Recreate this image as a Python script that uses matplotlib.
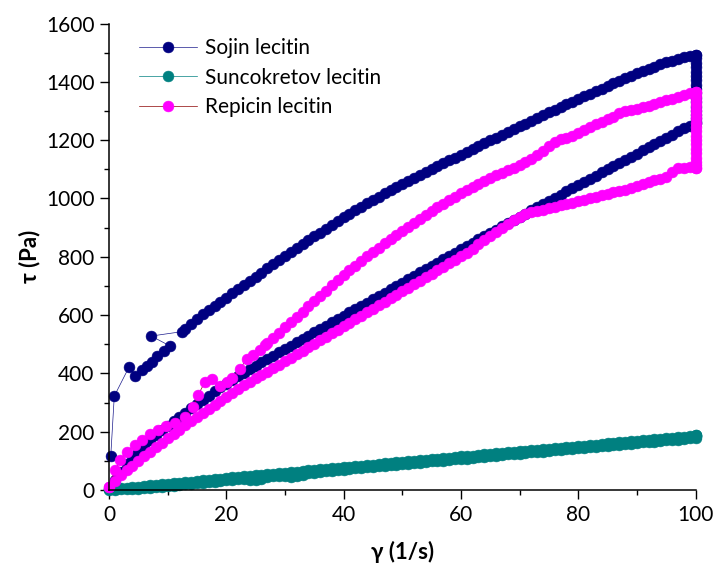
import matplotlib
matplotlib.use("Agg")
import matplotlib.pyplot as plt
from matplotlib.ticker import MultipleLocator

plt.rcParams['font.family'] = ['Lato', 'DejaVu Sans']

# ---------------- data: shear stress tau (Pa) vs shear rate gamma (1/s) ----------------
# Sojin lecitin: ramp up, hold at 100 1/s, ramp down
sojin_up_x = [0.3, 0.9, 3.4, 4.5, 5.6, 6.4, 7.3, 8.2, 9.3, 10.4, 7.2, 12.4] + list(range(13, 101))
sojin_up_tau = [117, 322, 421, 392, 412, 425, 440, 460, 477, 494, 528, 543,
                553, 570, 587, 603, 618, 632, 646, 660, 674, 688, 702, 716, 730, 745, 760, 774,
                789, 803, 817, 830, 844, 857, 870, 883, 896, 909, 922, 935, 947, 959, 971, 983,
                995, 1006, 1017, 1028, 1039, 1050, 1060, 1070, 1081, 1091, 1101, 1111, 1121, 1131,
                1140, 1150, 1160, 1170, 1180, 1189, 1199, 1209, 1219, 1229, 1238, 1248, 1257, 1267,
                1276, 1286, 1295, 1304, 1314, 1323, 1332, 1341, 1350, 1359, 1368, 1377, 1386, 1395,
                1403, 1412, 1420, 1429, 1437, 1445, 1452, 1460, 1467, 1473, 1479, 1484, 1489, 1493]
sojin_hold_tau = [1493, 1480, 1465, 1450, 1435, 1420, 1405, 1390, 1375, 1360, 1345, 1330,
                  1315, 1300, 1287, 1275, 1265, 1258]
sojin_down_x = list(range(0, 101))
sojin_down_tau = [3, 35, 62, 88, 112, 135, 155, 173, 190, 206, 221, 236, 250, 265, 280, 295,
                  310, 324, 338, 352, 365, 378, 390, 402, 414, 426, 438, 450, 461, 472, 484,
                  495, 507, 518, 529, 541, 552, 564, 575, 586, 598, 609, 620, 632, 643, 655,
                  666, 677, 689, 700, 711, 723, 734, 746, 757, 768, 780, 791, 802, 814, 825,
                  837, 848, 860, 871, 882, 893, 904, 915, 926, 937, 948, 959, 970, 981, 991,
                  1002, 1013, 1024, 1035, 1046, 1057, 1068, 1078, 1089, 1100, 1111, 1122, 1133,
                  1143, 1154, 1165, 1176, 1187, 1197, 1208, 1219, 1230, 1240, 1250, 1258]

# Suncokretov lecitin
sunc_x = list(range(0, 101))
sunc_up_tau = [2, 4, 6, 8, 10, 12, 14, 16, 18, 20, 21, 23, 25, 27, 29, 31, 33, 35, 37, 39, 41,
               43, 45, 47, 48, 50, 52, 54, 56, 58, 60, 62, 63, 65, 67, 69, 71, 73, 75, 76, 78,
               80, 82, 84, 86, 87, 89, 91, 93, 95, 97, 98, 100, 102, 104, 106, 107, 109, 111,
               113, 115, 116, 118, 120, 122, 124, 126, 128, 130, 131, 133, 135, 137, 138, 140,
               142, 144, 145, 147, 149, 151, 152, 154, 156, 158, 160, 162, 164, 165, 167, 169,
               171, 172, 174, 176, 178, 180, 181, 183, 185, 187]
sunc_hold_tau = [187, 186, 185, 184]
sunc_down_tau = [0, 1, 2, 3, 4, 5, 7, 8, 10, 12, 13, 15, 17, 19, 21, 23, 25, 27, 29, 31, 33,
                 35, 37, 38, 34, 33, 38, 45, 47, 49, 48, 46, 48, 52, 58, 60, 62, 64, 66, 68,
                 70, 72, 74, 76, 78, 79, 81, 83, 85, 87, 89, 90, 92, 94, 96, 98, 99, 101, 103,
                 105, 107, 108, 110, 112, 114, 116, 118, 120, 122, 123, 125, 127, 129, 130, 132,
                 134, 136, 137, 139, 141, 143, 144, 146, 148, 150, 152, 154, 156, 157, 159, 161,
                 163, 164, 166, 168, 170, 172, 173, 175, 177, 179]

# Repicin lecitin
rep_up_x = [0.0, 1.0, 1.9, 3.0, 4.4, 5.6, 7.0, 8.4, 9.8, 11.3, 13.0, 14.4, 15.2, 16.4, 17.5,
            18.9, 20.1, 20.9, 22.3, 23.5, 24.6, 25.7, 26.6] + list(range(27, 101))
rep_up_tau = [12, 67, 103, 132, 155, 172, 192, 206, 218, 229, 252, 286, 326, 372, 380,
              357, 372, 383, 414, 451, 463, 480, 497,
              505, 522, 540, 558, 576, 594, 612, 630, 648, 666, 684, 702, 719, 736, 753, 769,
              785, 801, 816, 831, 846, 861, 875, 889, 903, 917, 930, 943, 956, 969, 981, 993,
              1005, 1017, 1028, 1039, 1050, 1060, 1070, 1079, 1088, 1097, 1106, 1115, 1124,
              1135, 1148, 1164, 1180, 1195, 1203, 1208, 1213, 1223, 1234, 1246, 1254, 1262,
              1271, 1281, 1292, 1300, 1304, 1307, 1312, 1318, 1324, 1330, 1336, 1342, 1349,
              1356, 1361, 1366]
rep_hold_tau = [1366, 1350, 1335, 1320, 1305, 1290, 1275, 1260, 1245, 1230, 1215, 1200, 1185,
                1170, 1155, 1140, 1126, 1114, 1106]
rep_down_x = list(range(0, 101))
rep_down_tau = [10, 30, 50, 68, 84, 99, 115, 130, 146, 162, 178, 193, 207, 222, 236, 250, 264,
                278, 292, 306, 320, 334, 348, 360, 372, 384, 395, 406, 418, 430, 442, 454,
                466, 478, 490, 502, 514, 526, 538, 550, 562, 574, 586, 598, 610, 622, 634,
                646, 658, 670, 682, 694, 706, 718, 730, 742, 754, 766, 778, 790, 802, 814,
                828, 843, 858, 872, 886, 900, 913, 926, 936, 945, 952, 957, 962, 966, 971,
                976, 981, 986, 991, 996, 1000, 1005, 1011, 1016, 1021, 1025, 1029, 1035, 1042,
                1049, 1056, 1062, 1066, 1075, 1092, 1104, 1106, 1107, 1106]

HOLD_RATE = 100


def loop(up_x, up_tau, hold_tau, down_x, down_tau):
    """Join ramp-up, hold and ramp-down into one measurement sequence."""
    xs = list(up_x) + [HOLD_RATE] * len(hold_tau) + list(down_x)[::-1]
    ys = list(up_tau) + list(hold_tau) + list(down_tau)[::-1]
    return xs, ys


series = [
    ("Sojin lecitin", loop(sojin_up_x, sojin_up_tau, sojin_hold_tau, sojin_down_x, sojin_down_tau),
     "#000080", "#1a1a8c"),
    ("Suncokretov lecitin", loop(sunc_x, sunc_up_tau, sunc_hold_tau, sunc_x, sunc_down_tau),
     "#008080", "#008080"),
    ("Repicin lecitin", loop(rep_up_x, rep_up_tau, rep_hold_tau, rep_down_x, rep_down_tau),
     "#FF00FF", "#8B0000"),
]

fig = plt.figure(figsize=(7.13, 5.74), dpi=100)
ax = fig.add_axes([109 / 713, 1 - 490 / 574, 586.5 / 713, 466.5 / 574])

for label, (xs, ys), mcolor, lcolor in series:
    ax.plot(xs, ys, color=lcolor, lw=0.5, marker="o", markersize=7.8,
            markerfacecolor=mcolor, markeredgecolor=mcolor, markeredgewidth=0.4,
            label=label, clip_on=False)

ax.set_xlim(0, 100)
ax.set_ylim(0, 1600)
ax.xaxis.set_major_locator(MultipleLocator(20))
ax.xaxis.set_minor_locator(MultipleLocator(10))
ax.yaxis.set_major_locator(MultipleLocator(200))
ax.yaxis.set_minor_locator(MultipleLocator(100))

for side in ("top", "right"):
    ax.spines[side].set_visible(False)
for side in ("left", "bottom"):
    ax.spines[side].set_linewidth(1.1)

ax.tick_params(which="major", direction="out", length=6.5, width=1.0, labelsize=15, pad=4)
ax.tick_params(which="minor", direction="out", length=3.6, width=1.0)

ax.set_xlabel("γ (1/s)", fontsize=16, fontweight="bold", labelpad=12)
ax.set_ylabel("τ (Pa)", fontsize=16, fontweight="bold", labelpad=4)

ax.legend(loc="upper left", bbox_to_anchor=(0.03, 0.995), frameon=False, fontsize=15,
          handlelength=2.8, handletextpad=0.35, labelspacing=0.45, borderaxespad=0.2)

fig.savefig("out.png", dpi=100)
